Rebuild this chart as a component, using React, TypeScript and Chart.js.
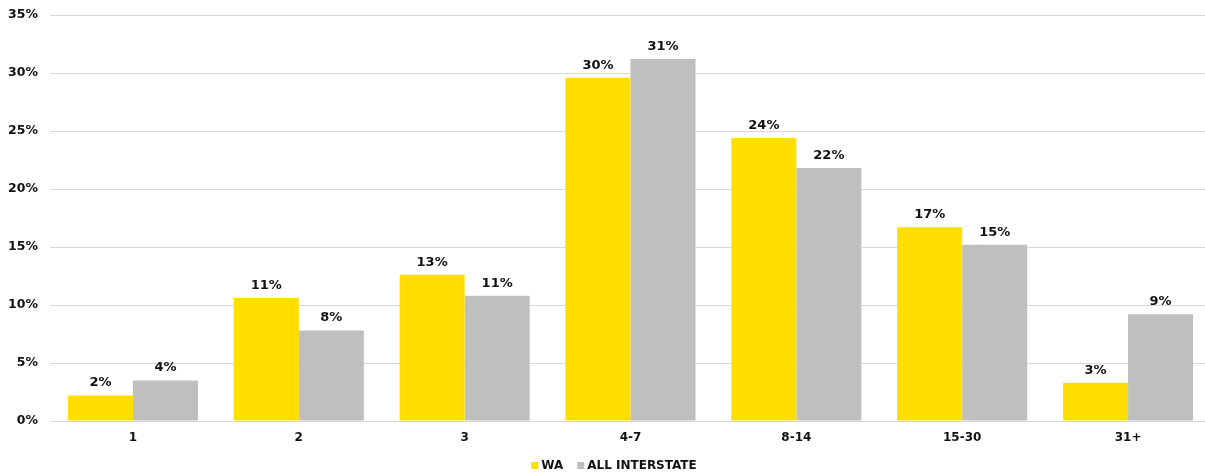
import React, { useEffect, useRef } from "react";
import { Chart, registerables } from "chart.js";

Chart.register(...registerables);

// Length-of-stay buckets (nights)
const categories = ["1", "2", "3", "4-7", "8-14", "15-30", "31+"];
// Share of visitors per bucket, in percent
const waValues = [2.2, 10.6, 12.6, 29.6, 24.4, 16.7, 3.3];
const interstateValues = [3.5, 7.8, 10.8, 31.2, 21.8, 15.2, 9.2];
const seriesLabels = ["WA", "ALL INTERSTATE"];
const seriesColors = ["#FFDE00", "#BFBFBF"];
const yMax = 35;
const yStep = 5;

const FONT = "'DejaVu Sans', Verdana, sans-serif";
const TEXT = "#111111";

const valueLabels = {
  id: "valueLabels",
  afterDatasetsDraw(chart: any) {
    const { ctx } = chart;
    ctx.save();
    ctx.font = `bold 13px ${FONT}`;
    ctx.fillStyle = TEXT;
    ctx.textAlign = "center";
    ctx.textBaseline = "middle";
    chart.data.datasets.forEach((ds: any, i: number) => {
      const meta = chart.getDatasetMeta(i);
      meta.data.forEach((bar: any, j: number) => {
        const v = ds.data[j] as number;
        ctx.fillText(`${Math.round(v)}%`, bar.x, bar.y - 12.5);
      });
    });
    ctx.restore();
  },
};

const bottomLegend = {
  id: "bottomLegend",
  afterDraw(chart: any) {
    const { ctx } = chart;
    const box = 7;
    const gapText = 3;
    const gapItem = 14;
    ctx.save();
    ctx.font = `bold 12px ${FONT}`;
    const items = chart.data.datasets.map((ds: any) => ({
      label: ds.label as string,
      color: ds.backgroundColor as string,
      w: ctx.measureText(ds.label).width,
    }));
    const total =
      items.reduce((s: number, it: any) => s + box + gapText + it.w, 0) +
      gapItem * (items.length - 1);
    const centerX = 614;
    const y = 466;
    let x = centerX - total / 2;
    ctx.textBaseline = "middle";
    ctx.textAlign = "left";
    items.forEach((it: any) => {
      ctx.fillStyle = it.color;
      ctx.fillRect(x, y - 4, box, box);
      x += box + gapText;
      ctx.fillStyle = TEXT;
      ctx.fillText(it.label, x, y);
      x += it.w + gapItem;
    });
    ctx.restore();
  },
};

export default function App() {
  const canvasRef = useRef<HTMLCanvasElement | null>(null);

  useEffect(() => {
    if (!canvasRef.current) return;
    const chart = new Chart(canvasRef.current, {
      type: "bar",
      data: {
        labels: categories,
        datasets: [
          {
            label: seriesLabels[0],
            data: waValues,
            backgroundColor: seriesColors[0],
            barPercentage: 1,
            categoryPercentage: 0.784,
          },
          {
            label: seriesLabels[1],
            data: interstateValues,
            backgroundColor: seriesColors[1],
            barPercentage: 1,
            categoryPercentage: 0.784,
          },
        ],
      },
      options: {
        responsive: false,
        animation: false,
        layout: { padding: { top: 15, right: 1, bottom: 0, left: 0 } },
        plugins: {
          legend: { display: false },
          tooltip: { enabled: false },
        },
        scales: {
          x: {
            grid: { display: false, drawTicks: false },
            border: { color: "#D9D9D9", width: 1 },
            ticks: {
              color: TEXT,
              font: { family: FONT, size: 12, weight: "bold" },
              padding: 10,
            },
            afterFit(scale: any) {
              scale.height = 51;
            },
          },
          y: {
            min: 0,
            max: yMax,
            grid: { color: "#D9D9D9", drawTicks: false },
            border: { display: false },
            ticks: {
              stepSize: yStep,
              color: TEXT,
              font: { family: FONT, size: 12.5, weight: "bold" },
              padding: 12,
              callback: (v: any) => `${v}%`,
            },
            afterFit(scale: any) {
              scale.width = 50;
              scale.paddingTop = 0;
              scale.paddingBottom = 0;
            },
          },
        },
      },
      plugins: [valueLabels, bottomLegend],
    });
    return () => chart.destroy();
  }, []);

  return (
    <div
      style={{
        position: "absolute",
        left: 0,
        top: 0,
        width: 1205,
        height: 472,
        overflow: "hidden",
        background: "#fff",
      }}
    >
      <canvas
        ref={canvasRef}
        width={1212}
        height={472}
        style={{ display: "block", width: 1212, height: 472 }}
      />
    </div>
  );
}
